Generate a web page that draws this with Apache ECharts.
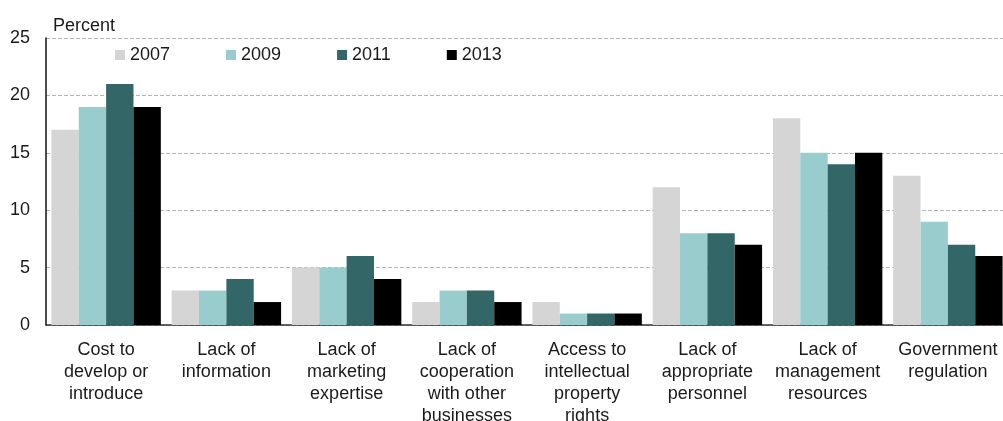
<!DOCTYPE html>
<html><head><meta charset="utf-8">
<script src="https://cdn.jsdelivr.net/npm/echarts@6/dist/echarts.min.js"></script>
<style>html,body{margin:0;padding:0;background:#fff}#c{width:1003px;height:421px}</style>
</head><body><div id="c"></div>
<script>
const categories = ["Cost to\ndevelop or\nintroduce","Lack of\ninformation","Lack of\nmarketing\nexpertise","Lack of\ncooperation\nwith other\nbusinesses","Access to\nintellectual\nproperty\nrights","Lack of\nappropriate\npersonnel","Lack of\nmanagement\nresources","Government\nregulation"];
const years = ["2007","2009","2011","2013"];
const v2007 = [17,3,5,2,2,12,18,13];
const v2009 = [19,3,5,3,1,8,15,9];
const v2011 = [21,4,6,3,1,8,14,7];
const v2013 = [19,2,4,2,1,7,15,6];
const yTicks = [0,5,10,15,20,25];
const colors = ["#d5d5d5","#99cccc","#336666","#000000"];
const font = "Liberation Sans, Arial, sans-serif";
const chart = echarts.init(document.getElementById('c'), null, {renderer:'canvas'});
const vals = [v2007,v2009,v2011,v2013];
chart.setOption({
  animation:false,
  color: colors,
  textStyle:{fontFamily:font},
  legend:{
    top: 41, left: 110, itemWidth: 10, itemHeight: 10, itemGap: 56,
    icon:'rect',
    textStyle:{fontFamily:font,fontSize:18,color:'#1a1a1a'},
    data: years
  },
  grid:{left:46, top:38, width:962, height:287, containLabel:false, outerBoundsMode:'none'},
  xAxis:{
    type:'category', data:categories,
    axisLine:{show:true,lineStyle:{color:'#333',width:1.5}},
    axisTick:{show:false},
    axisLabel:{interval:0, margin:14, fontFamily:font, fontSize:18, color:'#1a1a1a', lineHeight:22}
  },
  yAxis:{
    type:'value', min:0, max:25, interval:5,
    name:'Percent', nameLocation:'end', nameGap:3,
    nameTextStyle:{fontFamily:font,fontSize:18,color:'#1a1a1a',align:'left',padding:[0,0,0,7]},
    axisLine:{show:true,lineStyle:{color:'#111',width:1.5}},
    axisTick:{show:false},
    axisLabel:{margin:16, fontFamily:font, fontSize:18, color:'#1a1a1a',
      formatter:function(v){return yTicks.indexOf(v)>=0?String(v):'';}},
    splitLine:{show:true,lineStyle:{color:'#b5b5b5',type:'dashed',width:1}}
  },
  series: years.map((y,i)=>({
    name:y, type:'bar', data:vals[i], barGap:'0%', barCategoryGap:'9%',
    itemStyle:{color:colors[i]}
  }))
});
</script></body></html>
